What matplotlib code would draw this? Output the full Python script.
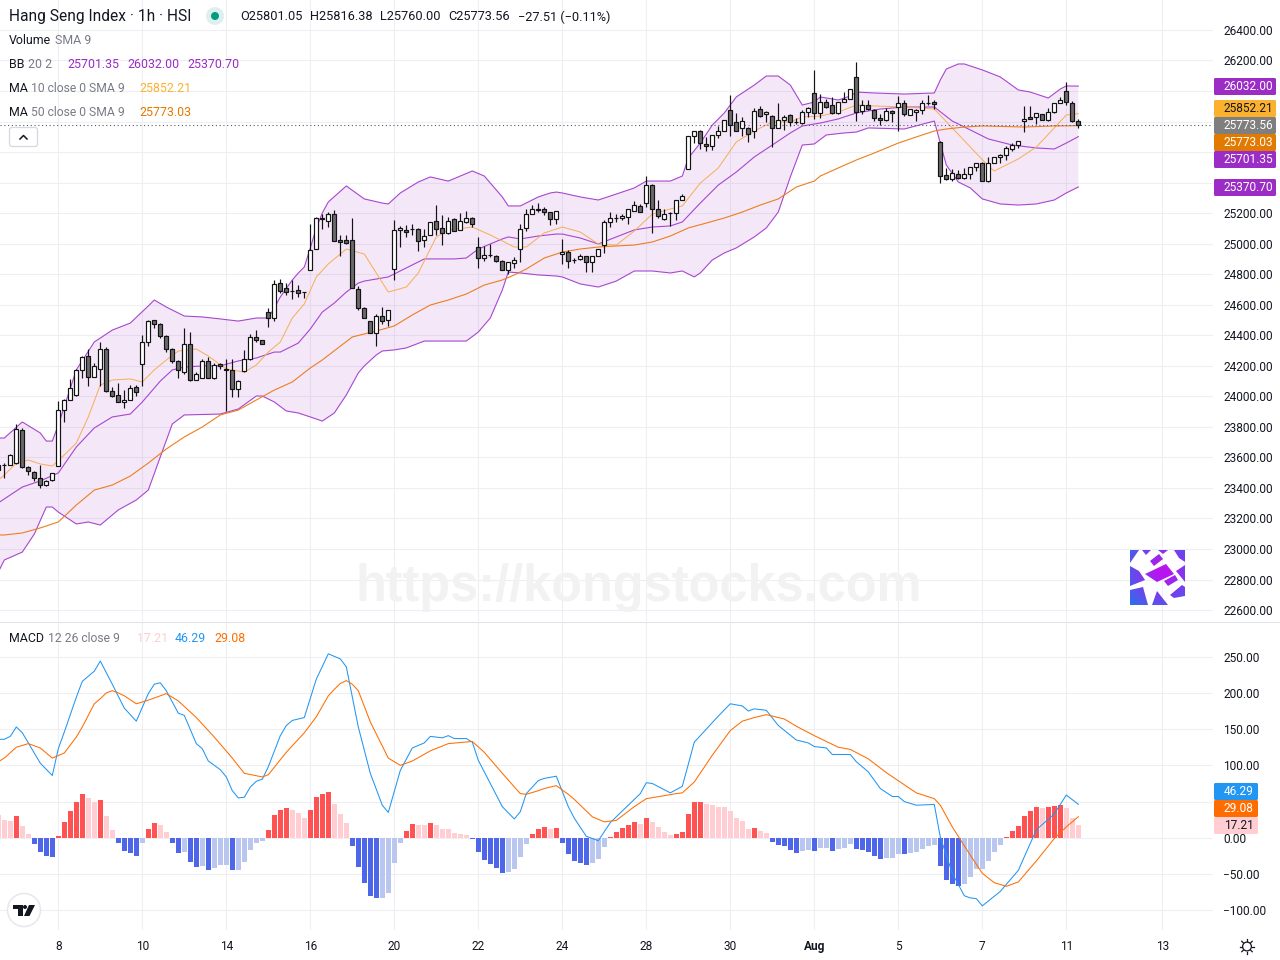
import numpy as np
import matplotlib
matplotlib.use('Agg')
import matplotlib.pyplot as plt
from matplotlib.patches import Circle, FancyBboxPatch, Polygon, PathPatch
from matplotlib.path import Path

plt.rcParams['font.family'] = ['Roboto', 'DejaVu Sans']

# candles, first bar is one hour left of the picture edge
FIRST_BAR = -1
OPEN = [23517,
    23550,23550,23563,23779,23537,23504,23465,23419,23452,23544,
    23910,23976,24009,24173,24264,24127,24179,24310,24035,24009,
    23963,23976,24061,24212,24356,24500,24474,24395,24310,24232,
    24159,24343,24107,24120,24232,24120,24212,24179,24173,24048,
    24166,24244,24389,24369,24552,24513,24742,24710,24690,24696,
    24683,24827,24965,25168,25148,25194,25024,25024,25024,24703,
    24579,24493,24415,24526,24500,24834,25090,25090,25096,25096,
    25024,25057,25148,25103,25070,25162,25090,25142,25168,24978,
    24906,24926,24919,24886,24827,24873,24965,25103,25194,25227,
    25227,25207,25162,24932,24945,24893,24900,24919,24880,24919,
    24991,25142,25168,25168,25175,25214,25247,25266,25384,25227,
    25162,25201,25201,25286,25489,25705,25738,25653,25640,25712,
    25738,25876,25797,25758,25758,25738,25882,25849,25836,25758,
    25810,25843,25797,25790,25862,25987,25856,25928,25908,25856,
    25928,25948,26092,25869,25908,25876,25823,25810,25869,25895,
    25921,25843,25862,25876,25921,25928,25666,25450,25424,25456,
    25430,25456,25502,25528,25410,25528,25568,25581,25620,25646,
    25803,25830,25830,25849,25810,25862,25921,26000,25921,25801]
HIGH = [23565,
    23563,23620,23819,23790,23545,23510,23550,23450,23498,23969,
    23980,24114,24180,24262,24310,24218,24356,24323,24061,24087,
    24041,24074,24074,24402,24500,24503,24480,24400,24316,24240,
    24448,24421,24159,24244,24258,24218,24218,24244,24244,24105,
    24303,24408,24435,24372,24579,24762,24769,24742,24762,24729,
    24686,25129,25175,25194,25207,25220,25057,25057,25168,24723,
    24585,24495,24539,24585,24566,25155,25116,25122,25129,25100,
    25096,25142,25253,25188,25175,25165,25201,25214,25175,25044,
    24985,24998,24926,24890,24880,24913,25129,25227,25253,25266,
    25240,25210,25214,25031,24958,24906,24932,24922,24922,24965,
    25155,25207,25194,25194,25227,25279,25260,25443,25390,25286,
    25227,25205,25286,25325,25705,25738,25742,25699,25712,25771,
    25810,25974,25856,25830,25765,25889,25902,25870,25840,25921,
    25843,25850,25823,25876,25895,26138,25980,25948,25961,25930,
    25993,26013,26190,25941,25941,25880,25849,25889,25875,25967,
    25941,25885,25880,25941,25974,25941,25670,25496,25489,25482,
    25496,25505,25530,25532,25568,25568,25587,25640,25659,25675,
    25902,25902,25856,25852,25889,25921,25961,26059,25935,25816]
LOW = [23500,
    23465,23550,23560,23530,23485,23445,23400,23410,23445,23544,
    23832,23976,24000,24120,24068,24127,24068,24030,23995,23960,
    23924,23976,24002,24068,24330,24448,24382,24290,24218,24120,
    24146,24100,24107,24120,24118,24114,24179,23904,23996,23996,
    24160,24240,24356,24340,24454,24493,24680,24664,24638,24651,
    24644,24827,24965,25096,25109,25015,24919,24998,24710,24566,
    24510,24412,24330,24474,24461,24762,24978,25044,25057,24952,
    24978,25057,25057,24991,25063,25080,25090,25135,25109,24841,
    24886,24913,24880,24825,24801,24841,24880,25083,25194,25207,
    25188,25122,25129,24867,24841,24873,24893,24814,24814,24919,
    24939,25109,25142,25155,25129,25214,25205,25240,25070,25168,
    25155,25116,25155,25286,25489,25659,25620,25607,25613,25692,
    25738,25705,25735,25705,25666,25692,25830,25797,25633,25755,
    25745,25771,25784,25785,25830,25817,25823,25889,25850,25850,
    25925,25948,25803,25849,25876,25803,25777,25803,25797,25738,
    25836,25840,25803,25849,25908,25882,25397,25420,25410,25425,
    25425,25424,25476,25408,25404,25528,25528,25548,25607,25627,
    25731,25815,25784,25808,25803,25856,25921,25908,25797,25760]
CLOSE = [23550,
    23553,23616,23786,23537,23511,23465,23419,23445,23498,23910,
    23976,24055,24173,24258,24127,24199,24310,24035,24002,23963,
    23976,24055,24028,24356,24493,24474,24395,24310,24232,24173,
    24343,24107,24146,24232,24120,24205,24199,24173,24048,24100,
    24244,24389,24369,24343,24513,24736,24690,24683,24687,24677,
    24683,24958,25168,25162,25194,25017,25011,25004,24710,24579,
    24513,24415,24526,24493,24566,25090,25103,25076,25099,25017,
    25050,25142,25096,25070,25148,25083,25148,25168,25129,24906,
    24926,24923,24886,24827,24880,24893,25096,25194,25227,25220,
    25207,25162,25214,24945,24886,24890,24919,24880,24919,24965,
    25142,25168,25171,25181,25227,25253,25207,25384,25227,25181,
    25194,25201,25286,25312,25705,25738,25659,25640,25712,25738,
    25810,25777,25738,25803,25718,25869,25836,25862,25758,25810,
    25830,25797,25794,25862,25889,25856,25928,25895,25856,25928,
    25948,26013,25862,25908,25882,25823,25810,25869,25856,25921,
    25849,25882,25876,25921,25924,25915,25443,25424,25463,25430,
    25456,25502,25528,25410,25528,25568,25581,25627,25646,25672,
    25817,25817,25856,25810,25862,25921,25941,25928,25803,25774]

# overlays, read at the bars where each line bends
BB_UPPER_BARS = [-1,0,3,6,7,8,9,12,15,18,21,24,25,27,30,33,36,39,42,44,45,46,48,49,50,51,52,53,54,57,60,63,64,66,69,71,74,78,80,83,84,86,89,91,92,93,96,99,102,105,107,111,113,114,116,118,120,122,125,127,129,131,133,135,136,139,141,142,145,150,155,156,157,159,160,163,166,169,171,174,176,177,179]
BB_UPPER = [23727,23727,23832,23760,23707,23707,23812,24173,24356,24434,24480,24592,24631,24585,24526,24520,24507,24493,24513,24513,24579,24651,24762,24808,24847,24972,25103,25201,25273,25378,25293,25266,25260,25332,25404,25437,25410,25476,25443,25306,25247,25247,25306,25332,25338,25332,25306,25286,25325,25365,25410,25410,25443,25561,25659,25777,25856,25961,26039,26098,26098,26039,25908,25928,25961,25941,25967,25993,25987,25980,25987,26072,26144,26177,26177,26138,26092,26007,25993,25954,26013,26033,26032]
BB_LOWER_BARS = [-1,0,3,5,7,8,9,12,14,16,19,22,24,26,28,30,36,39,42,43,45,47,49,51,53,55,57,59,60,62,63,65,67,70,75,77,79,81,83,84,86,89,92,93,96,99,102,105,108,111,113,115,116,118,120,122,125,127,129,131,133,135,137,140,142,144,150,155,156,157,159,161,163,166,169,172,175,177,179]
BB_LOWER = [22849,22928,22980,23098,23275,23275,23242,23164,23177,23157,23256,23321,23386,23603,23819,23878,23884,23917,24002,24002,23963,23904,23891,23865,23838,23891,24009,24153,24199,24271,24297,24304,24317,24362,24362,24362,24421,24513,24696,24814,24808,24795,24788,24782,24736,24716,24755,24821,24821,24808,24821,24782,24808,24893,24939,24972,25044,25103,25207,25437,25646,25653,25712,25725,25731,25758,25751,25803,25659,25515,25404,25365,25293,25260,25253,25260,25286,25332,25371]
BB_BASIS_BARS = [-1,0,3,6,9,12,15,18,21,23,26,28,30,33,36,39,42,45,46,49,51,53,55,57,59,60,64,67,70,75,77,79,83,84,86,89,92,93,96,99,102,105,108,111,113,116,119,122,125,128,131,133,136,139,142,146,150,155,158,161,164,168,172,175,177,179]
BB_BASIS = [23302,23328,23406,23446,23498,23668,23793,23865,23884,23963,24100,24173,24192,24199,24199,24232,24251,24290,24290,24349,24441,24552,24611,24683,24742,24755,24782,24841,24900,24900,24906,24965,25031,25044,25031,25050,25063,25063,25037,24998,25044,25090,25109,25116,25142,25266,25384,25469,25568,25646,25725,25771,25790,25817,25856,25882,25895,25895,25803,25745,25686,25646,25627,25620,25659,25701]
MA10_BARS = [-1,0,2,4,6,8,10,12,14,16,18,21,23,25,27,29,32,34,37,40,42,44,46,48,50,52,54,57,60,64,67,69,72,74,78,81,85,87,90,92,93,96,99,102,105,108,111,113,116,119,122,125,128,131,133,136,139,142,145,150,155,158,161,164,165,169,172,175,177,179]
MA10 = [23452,23485,23563,23583,23557,23544,23616,23694,23865,24074,24107,24114,24094,24173,24238,24297,24310,24264,24179,24159,24205,24290,24356,24513,24605,24782,24867,24965,24932,24683,24716,24808,25044,25090,25109,25057,24978,24978,25070,25096,25109,25076,24998,24991,25083,25194,25227,25247,25397,25496,25666,25738,25797,25797,25830,25836,25862,25908,25902,25895,25882,25758,25633,25509,25476,25555,25633,25758,25843,25852]
MA50_BARS = [-1,0,3,6,9,12,15,18,21,24,27,30,33,36,39,42,45,48,51,53,58,62,65,68,71,74,77,80,83,85,87,90,92,93,96,99,102,105,108,111,114,117,120,123,126,129,132,135,136,139,142,145,149,152,155,157,160,163,170,175,179]
MA50 = [23092,23092,23105,23138,23177,23288,23386,23419,23478,23563,23655,23734,23799,23878,23910,23976,24041,24094,24186,24238,24389,24428,24461,24533,24598,24631,24670,24729,24762,24795,24834,24906,24932,24945,24965,24978,24985,24991,25011,25050,25103,25135,25168,25207,25253,25293,25371,25410,25443,25496,25548,25594,25659,25699,25738,25751,25764,25771,25764,25771,25773]

# MACD pane
HIST = [31,
    24,23,30,16,5,-9,-19,-25,-26,2,
    22,37,50,61,55,50,52,30,11,-7,
    -18,-21,-25,-7,12,20,17,8,-7,-21,
    -20,-33,-40,-39,-44,-42,-38,-38,-44,-44,
    -33,-17,-7,-5,11,31,39,41,38,34,
    27,39,56,61,63,46,33,20,-11,-40,
    -62,-80,-83,-83,-76,-35,-7,9,19,17,
    17,20,17,12,12,6,5,4,-2,-20,
    -31,-36,-42,-49,-47,-43,-27,-9,5,12,
    15,12,13,-7,-22,-32,-35,-38,-35,-29,
    -13,1,8,13,17,22,19,28,22,15,
    8,4,5,8,33,49,50,46,45,42,
    42,37,27,23,12,13,9,6,-6,-10,
    -11,-17,-21,-18,-17,-18,-14,-14,-18,-16,
    -14,-9,-16,-17,-20,-25,-29,-28,-28,-22,
    -23,-21,-20,-16,-11,-10,-39,-58,-64,-67,
    -64,-54,-43,-43,-32,-20,-10,1,9,16,
    30,37,42,41,42,44,45,41,28,17]
MACD_BARS = [-1,0,1,2,3,4,6,8,9,10,12,13,15,16,18,20,22,24,25,26,27,29,30,32,33,34,36,37,38,39,40,41,42,43,44,46,47,48,50,52,54,56,57,59,61,63,64,66,68,70,71,73,74,75,77,78,79,81,83,85,86,87,89,90,92,94,95,97,99,101,106,107,108,111,113,115,117,119,121,123,124,125,127,129,132,134,135,137,138,141,142,144,146,148,149,150,152,155,156,158,160,161,162,163,166,169,172,175,177,179]
MACD = [136,136,140,153,145,131,103,86,123,146,194,216,230,244,212,179,161,199,212,214,203,172,169,130,123,106,94,84,65,55,56,70,78,81,98,141,155,162,166,219,254,247,236,153,89,45,35,93,124,131,140,138,141,137,137,132,107,75,43,26,36,61,79,82,85,43,27,2,-4,21,61,76,75,62,71,132,150,168,185,182,175,178,176,155,135,131,126,124,115,115,105,91,68,57,57,50,45,46,1,-49,-80,-83,-84,-94,-74,-45,11,33,59,46.29]
SIGNAL_BARS = [-1,0,2,4,6,8,10,12,13,14,15,16,17,18,19,20,22,24,27,29,32,35,38,40,43,44,47,50,52,54,55,56,57,58,59,61,64,66,68,71,74,78,80,83,86,87,89,90,92,94,95,98,100,102,105,107,112,113,115,118,121,123,125,127,130,132,135,139,141,144,147,152,155,156,158,161,163,165,167,169,172,175,177,179]
SIGNAL = [105,110,125,130,124,110,117,139,153,169,185,192,200,203,200,196,185,190,199,189,166,139,110,89,84,87,118,145,167,196,205,213,217,212,203,160,110,100,106,120,130,133,118,89,61,60,65,68,72,60,53,29,22,24,43,54,61,62,77,114,148,161,166,170,164,154,141,125,122,109,90,62,54,45,15,-24,-49,-62,-67,-61,-32,-1,15,29.08]

PRICE_TICKS = list(range(22600, 26600, 200))
MACD_TICKS = [-100, -50, 0, 50, 100, 150, 200, 250]
DATE_BARS = [9, 23, 37, 51, 65, 79, 93, 107, 121, 135, 149, 163, 177, 193]
DATE_LABELS = ['8', '10', '14', '16', '20', '22', '24', '28', '30', 'Aug', '5', '7', '11', '13']
# these tick labels sit fully behind the last value tags
HIDDEN_PRICE = [26000, 25800, 25600]
HIDDEN_MACD = [50]

TEXT = '#131722'
GRAY = '#787b86'
GRID = '#eeeff3'
PURPLE = '#9b2cc6'
BAND = '#a747d0'
MA10_COL = '#f7ae52'
MA50_COL = '#ec7f1e'
TAG_MA10 = '#fbb12d'
TAG_MA50 = '#e37a00'
BLUE = '#2196f3'
ORANGE = '#ff6d00'
PINK = '#ffcdd2'

W, H = 1280, 960
PANE_RIGHT = 1213
fig = plt.figure(figsize=(W / 100, H / 100), dpi=100, facecolor='white')


def pane(top, bottom):
    ax = fig.add_axes([0, 1 - bottom / H, PANE_RIGHT / W, (bottom - top) / H])
    for s in ax.spines.values():
        s.set_visible(False)
    ax.set_xlim((0 - 4.3) / 6, (PANE_RIGHT - 4.3) / 6)
    ax.set_xticks(DATE_BARS)
    ax.grid(True, color=GRID, lw=0.75)
    ax.set_axisbelow(True)
    ax.yaxis.tick_right()
    ax.tick_params(length=0, pad=7.4, labelsize=8.6, labelcolor=TEXT)
    return ax


ax = pane(0, 621)
ax.set_ylim(26596 - 6.55 * 621, 26596)
ax.set_yticks(PRICE_TICKS)
ax.set_yticklabels(['' if t in HIDDEN_PRICE else '%.2f' % t for t in PRICE_TICKS])
ax.tick_params(labelbottom=False)

# band fill, the outline goes out along the upper line and back along the lower
ax.fill(BB_UPPER_BARS + BB_LOWER_BARS[::-1], BB_UPPER + BB_LOWER[::-1],
        color=PURPLE, alpha=0.11, lw=0, zorder=1)
ax.plot(BB_UPPER_BARS, BB_UPPER, color=BAND, lw=0.8, zorder=2)
ax.plot(BB_LOWER_BARS, BB_LOWER, color=BAND, lw=0.8, zorder=2)
ax.plot(BB_BASIS_BARS, BB_BASIS, color=BAND, lw=0.8, zorder=2)
ax.plot(MA10_BARS, MA10, color=MA10_COL, lw=0.7, zorder=2)
ax.plot(MA50_BARS, MA50, color=MA50_COL, lw=0.8, zorder=2)
ax.axhline(CLOSE[-1], color='#555a66', lw=0.8, ls=(0, (1, 2.4)), zorder=2)

bars = np.arange(len(OPEN)) + FIRST_BAR
opens = np.array(OPEN)
closes = np.array(CLOSE)
ax.vlines(bars, LOW, HIGH, color='#131313', lw=0.85, zorder=3)
ax.bar(bars, np.abs(closes - opens), bottom=np.minimum(opens, closes), width=0.62,
       color=['white' if c >= o else '#6a6a6a' for o, c in zip(opens, closes)],
       edgecolor='#131313', linewidth=0.85, zorder=4)

ax2 = pane(622, 930)
ax2.set_ylim(-127.3, 297.9)
ax2.set_yticks(MACD_TICKS)
ax2.set_yticklabels(['' if t in HIDDEN_MACD else ('%.2f' % t).replace('-', '\u2212') for t in MACD_TICKS])
ax2.set_xticklabels(DATE_LABELS)
ax2.tick_params(axis='x', pad=7)
for lab in ax2.get_xticklabels():
    if lab.get_text() == 'Aug':
        lab.set_fontweight('bold')

colors = []
prev = HIST[0] + 1
for v in HIST:
    if v >= 0:
        colors.append('#ff5252' if v > prev else PINK)
    else:
        colors.append('#4d66ea' if v < prev else '#b9c6f0')
    prev = v
ax2.bar(bars, HIST, width=0.8, color=colors, lw=0, zorder=2)
ax2.plot(MACD_BARS, MACD, color=BLUE, lw=0.75, zorder=3)
ax2.plot(SIGNAL_BARS, SIGNAL, color=ORANGE, lw=0.75, zorder=3)

# everything else sits on an overlay that counts in screen pixels
top = fig.add_axes([0, 0, 1, 1], zorder=10)
top.set_xlim(0, W)
top.set_ylim(H, 0)
top.axis('off')
top.patch.set_alpha(0)

top.plot([0, W], [621.5, 621.5], color='#e0e3eb', lw=0.8)
top.text(639, 588, 'https://kongstocks.com', family='Liberation Sans', weight='bold',
         fontsize=36.4, color='#f2f2f2', ha='center', va='center', zorder=0)


def label(x, y, s, color=TEXT, size=8.9, **kw):
    top.text(x, y + 1, s, color=color, fontsize=size, va='center', ha='left', **kw)


label(9, 16, 'Hang Seng Index \u00b7 1h \u00b7 HSI', size=11.2)
top.add_patch(Circle((215, 16), 9, color='#089981', alpha=0.14, lw=0))
top.add_patch(Circle((215, 16), 4, color='#089981', lw=0))
label(240, 16, 'O25801.05', size=9.2)
label(310, 16, 'H25816.38', size=9.2)
label(380, 16, 'L25760.00', size=9.2)
label(448, 16, 'C25773.56', size=9.2)
label(518, 16, '\u221227.51 (\u22120.11%)', size=9.2)
label(9, 40, 'Volume')
label(55, 40, 'SMA 9', GRAY)
label(9, 64, 'BB')
label(28, 64, '20 2', GRAY)
label(67, 64, '25701.35', PURPLE)
label(127, 64, '26032.00', PURPLE)
label(187, 64, '25370.70', PURPLE)
label(9, 88, 'MA')
label(31, 88, '10 close 0 SMA 9', GRAY, size=8.7)
label(139, 88, '25852.21', TAG_MA10)
label(9, 112, 'MA')
label(31, 112, '50 close 0 SMA 9', GRAY, size=8.7)
label(139, 112, '25773.03', TAG_MA50)
label(9, 638, 'MACD')
label(48, 638, '12 26 close 9', GRAY, size=8.7)
label(137, 638, '17.21', PINK)
label(175, 638, '46.29', BLUE)
label(214, 638, '29.08', ORANGE)

# collapse button
top.add_patch(FancyBboxPatch((9.5, 127.5), 28, 19, boxstyle='round,pad=0,rounding_size=2.5',
                             fc='white', ec='#d6d8e0', lw=0.9))
top.plot([20, 23.5, 27], [139, 135.5, 139], color=TEXT, lw=1.1)


def tag(y0, s, bg, fg='white', right=1276):
    top.add_patch(FancyBboxPatch((1214, y0), right - 1214, 17, boxstyle='round,pad=0,rounding_size=1.5',
                                 fc=bg, ec='none', zorder=5))
    top.text(1224, y0 + 8.7, s, color=fg, fontsize=8.6, va='center', ha='left', zorder=6)


tag(78, '26032.00', PURPLE)
tag(100, '25852.21', TAG_MA10, TEXT)
tag(117, '25773.56', '#7f7f7f')
tag(134, '25773.03', TAG_MA50)
tag(151, '25701.35', PURPLE)
tag(179, '25370.70', PURPLE)
tag(783, '46.29', BLUE, right=1258)
tag(800, '29.08', ORANGE, right=1258)
tag(817, '17.21', PINK, TEXT, right=1258)

# TradingView badge
top.add_patch(Circle((24, 910), 16.5, fc='white', ec='#e6e8ee', lw=1.1))
top.add_patch(Polygon([(13, 905), (22.7, 905), (22.7, 916), (17.5, 916), (17.5, 909), (13, 909)], fc=TEXT, ec='none'))
top.add_patch(Circle((25, 907), 2, fc=TEXT, lw=0))
top.add_patch(Polygon([(29, 905), (35, 905), (29.5, 916), (24, 916)], fc=TEXT, ec='none'))

# settings sun icon
top.add_patch(Circle((1247, 946.5), 4.4, fc='white', ec=TEXT, lw=0.9))
for a in np.arange(8) * np.pi / 4:
    top.plot([1247 + 5.2 * np.cos(a), 1247 + 7.4 * np.cos(a)],
             [946.5 + 5.2 * np.sin(a), 946.5 + 7.4 * np.sin(a)], color=TEXT, lw=0.9)

# logo square, gradient shows only through the coloured pieces
logo = fig.add_axes([1130 / W, 1 - 605 / H, 55 / W, 55 / H], zorder=11)
gx, gy = np.meshgrid(np.linspace(0, 1, 55), np.linspace(1, 0, 55))
mix = np.clip(1.15 - np.hypot(gx - 0.6, gy - 0.6) / 0.7, 0, 1)[..., None]
shade = (1 - mix) * np.array([0.2, 0.42, 0.92]) + mix * np.array([0.72, 0.08, 0.94])
pieces = [[(0, 0), (9, 0), (0, 13)], [(12, 0), (21, 0), (16, 5)], [(28, 0), (38, 0), (33, 4)],
          [(44, 0), (55, 0), (55, 12), (49, 8)], [(20, 11), (29, 4), (33, 9), (24, 16)],
          [(0, 16), (9, 21), (15, 30), (0, 36)], [(15, 24), (36, 14), (44, 24), (27, 32)],
          [(34, 31), (45, 25), (48, 30), (38, 36)], [(55, 15), (55, 32), (46, 21)],
          [(52, 35), (55, 37), (55, 46), (44, 48), (40, 45)], [(27, 41), (38, 55), (22, 55)],
          [(0, 40), (13, 37), (18, 55), (0, 55)]]
verts, codes = [], []
for p in pieces:
    verts += p + [p[0]]
    codes += [Path.MOVETO] + [Path.LINETO] * (len(p) - 1) + [Path.CLOSEPOLY]
im = logo.imshow(shade, extent=(0, 55, 55, 0), aspect='auto')
im.set_clip_path(PathPatch(Path(verts, codes), transform=logo.transData))
logo.set_xlim(0, 55)
logo.set_ylim(55, 0)
logo.axis('off')

fig.savefig('out.png', dpi=100, facecolor='white')
